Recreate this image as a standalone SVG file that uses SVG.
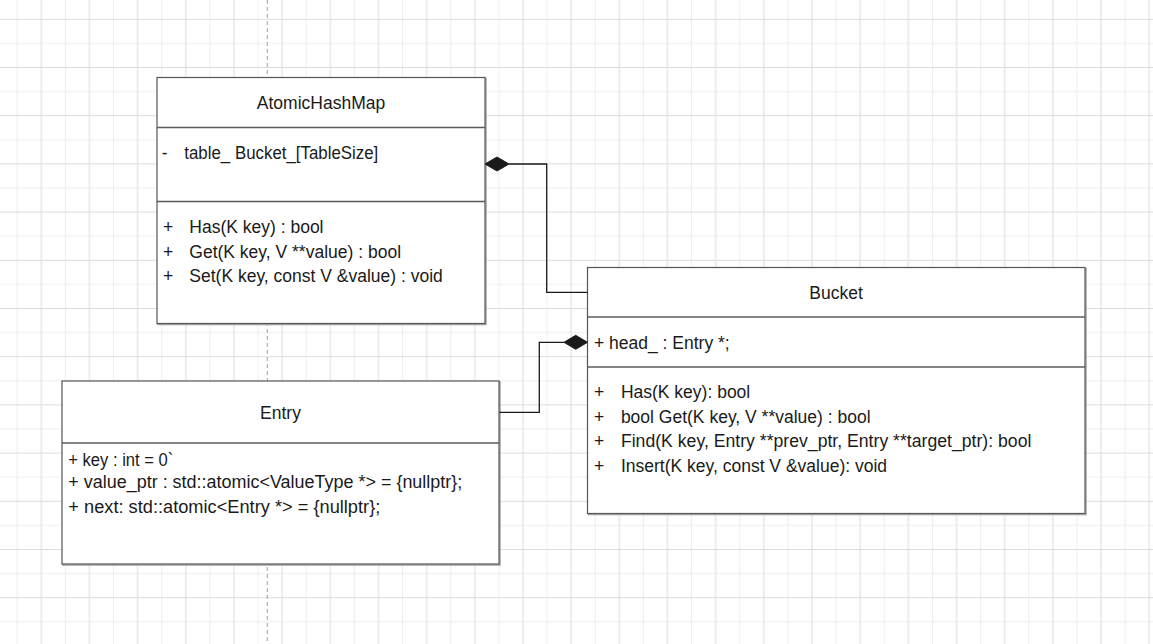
<svg xmlns="http://www.w3.org/2000/svg" width="1153" height="644" viewBox="0 0 1153 644">
<defs>
<pattern id="grid" patternUnits="userSpaceOnUse" x="16.7" y="18.8" width="48.17" height="48.2">
<path d="M0.5,0 V48.2 M0,24.6 H48.17" stroke="#eeeeee" stroke-width="1" fill="none"/>
<path d="M24.585,0 V48.2 M0,0.5 H48.17" stroke="#dcdcdc" stroke-width="1" fill="none"/>
</pattern>
</defs>
<style>
.shadow{fill:none;stroke:#a8a8a8;stroke-width:1.6}
.box{fill:#ffffff;stroke:#555555;stroke-width:1.2}
.div{stroke:#5a5a5a;stroke-width:1.5;fill:none}
text{font-family:"Liberation Sans",Arial,sans-serif;font-size:17.5px;fill:#1a1a1a}
.title{text-anchor:middle}
.conn{fill:none;stroke:#1a1a1a;stroke-width:1.3}
.dia{fill:#1a1a1a;stroke:#1a1a1a;stroke-width:1}
</style>
<rect x="0" y="0" width="1153" height="644" fill="#ffffff"/>
<rect x="0" y="0" width="1153" height="644" fill="url(#grid)"/>
<line x1="267.3" y1="0" x2="267.3" y2="644" stroke="#b0b0b0" stroke-width="1.2" stroke-dasharray="4 3"/>

<g id="AtomicHashMap">
<rect class="shadow" x="158" y="78.5" width="328" height="246"/>
<rect class="box" x="157" y="77.5" width="328" height="246"/>
<line class="div" x1="157" y1="127.5" x2="485" y2="127.5"/>
<line class="div" x1="157" y1="201.5" x2="485" y2="201.5"/>
<text class="title" x="321" y="109.3">AtomicHashMap</text>
<text x="161.7" y="159.3">-</text>
<text x="184.3" y="159.3" textLength="194" lengthAdjust="spacingAndGlyphs">table_ Bucket_[TableSize]</text>
<text x="163" y="232.7">+</text>
<text x="189.3" y="232.7">Has(K key) : bool</text>
<text x="163" y="257.7">+</text>
<text x="189.3" y="257.7">Get(K key, V **value) : bool</text>
<text x="163" y="282">+</text>
<text x="189.3" y="282">Set(K key, const V &amp;value) : void</text>
</g>

<g id="Bucket">
<rect class="shadow" x="588.5" y="268.5" width="497.5" height="246"/>
<rect class="box" x="587.5" y="267.5" width="497.5" height="246"/>
<line class="div" x1="587.5" y1="317" x2="1085" y2="317"/>
<line class="div" x1="587.5" y1="367" x2="1085" y2="367"/>
<text class="title" x="836" y="299.3">Bucket</text>
<text x="594" y="349.3">+ head_ : Entry *;</text>
<text x="594" y="398.3">+</text>
<text x="620.9" y="398.3">Has(K key): bool</text>
<text x="594" y="422.7">+</text>
<text x="620.9" y="422.7">bool Get(K key, V **value) : bool</text>
<text x="594" y="447.3">+</text>
<text x="620.9" y="447.3" textLength="410.5" lengthAdjust="spacingAndGlyphs">Find(K key, Entry **prev_ptr, Entry **target_ptr): bool</text>
<text x="594" y="471.7">+</text>
<text x="620.9" y="471.7">Insert(K key, const V &amp;value): void</text>
</g>

<g id="Entry">
<rect class="shadow" x="63" y="382" width="437" height="183"/>
<rect class="box" x="62" y="381" width="437" height="183"/>
<line class="div" x1="62" y1="443" x2="499" y2="443"/>
<text class="title" x="280.5" y="419.3">Entry</text>
<text x="68.3" y="465.7" textLength="105" lengthAdjust="spacingAndGlyphs">+ key : int = 0`</text>
<text x="68.3" y="488.3" textLength="394" lengthAdjust="spacingAndGlyphs">+ value_ptr : std::atomic&lt;ValueType *&gt; = {nullptr};</text>
<text x="68.3" y="512.7" textLength="312" lengthAdjust="spacingAndGlyphs">+ next: std::atomic&lt;Entry *&gt; = {nullptr};</text>
</g>

<g id="connectors">
<path class="conn" d="M509,164 H546.7 V292.3 H587.5"/>
<polygon class="dia" points="485,164 497,157 509,164 497,171"/>
<path class="conn" d="M499.5,412.3 H539.3 V342.3 H564"/>
<polygon class="dia" points="587.5,342.3 575.7,335.3 564,342.3 575.7,349.3"/>
</g>
</svg>
